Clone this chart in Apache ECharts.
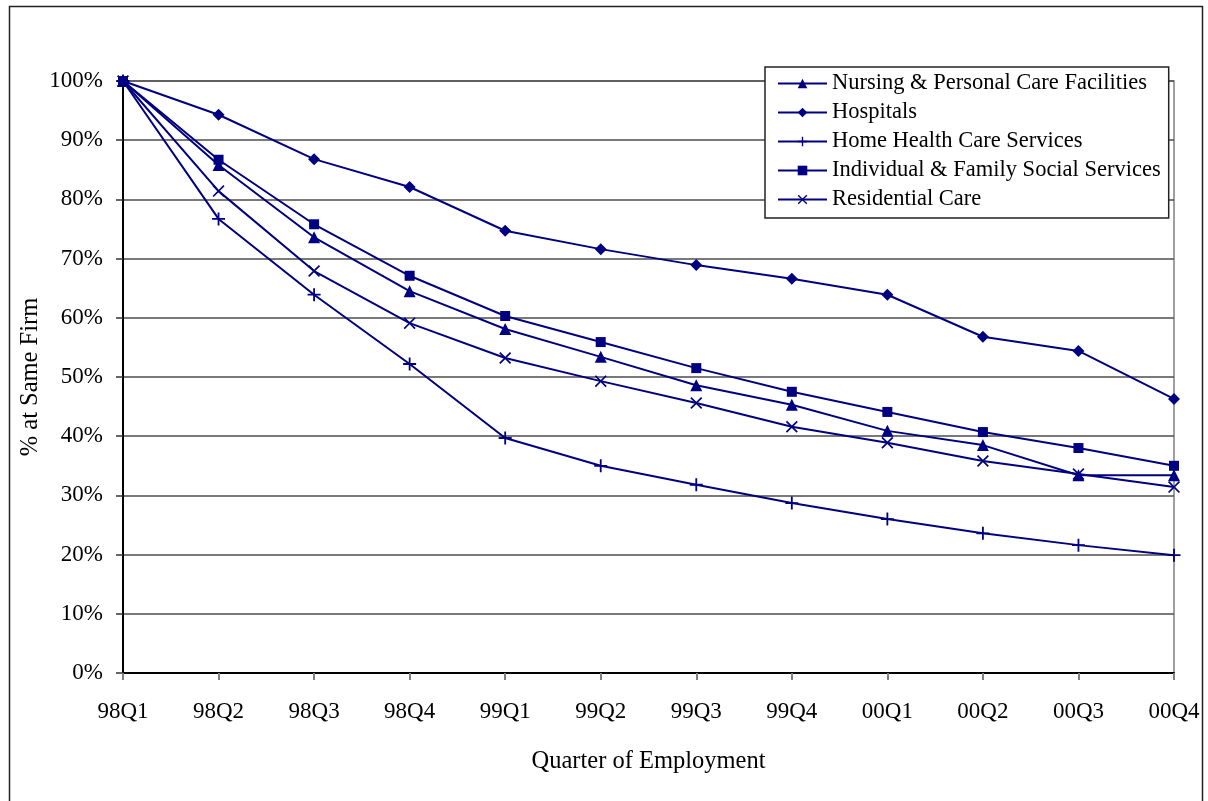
<!DOCTYPE html>
<html>
<head>
<meta charset="utf-8">
<script src="https://cdn.jsdelivr.net/npm/echarts@6/dist/echarts.min.js"></script>
<style>html,body{margin:0;padding:0;background:#fff;}#c{width:1208px;height:801px;}</style>
</head>
<body>
<div id="c"></div>
<script>
var categories = ['98Q1','98Q2','98Q3','98Q4','99Q1','99Q2','99Q3','99Q4','00Q1','00Q2','00Q3','00Q4'];
var nursing     = [100, 85.8, 73.6, 64.5, 58.1, 53.4, 48.6, 45.3, 40.9, 38.5, 33.4, 33.4];
var hospitals   = [100, 94.3, 86.8, 82.1, 74.7, 71.6, 68.9, 66.6, 63.9, 56.8, 54.4, 46.3];
var homeHealth  = [100, 76.7, 63.9, 52.2, 39.7, 35.0, 31.8, 28.7, 26.0, 23.6, 21.6, 19.9];
var individual  = [100, 86.7, 75.8, 67.1, 60.3, 55.9, 51.5, 47.5, 44.1, 40.7, 38.0, 35.0];
var residential = [100, 81.4, 67.9, 59.1, 53.2, 49.3, 45.6, 41.6, 38.9, 35.8, 33.6, 31.4];
var seriesNames = ['Nursing & Personal Care Facilities','Hospitals','Home Health Care Services','Individual & Family Social Services','Residential Care'];
var yTicks = [0,10,20,30,40,50,60,70,80,90,100];

var NAVY = '#000080';
var FONT = '"Liberation Serif","Times New Roman",serif';
var plusPath = 'path://M4.3,0h1.4v4.3h4.3v1.4h-4.3v4.3h-1.4v-4.3h-4.3v-1.4h4.3z';
var xPath = 'path://M0,1L1,0L5,4L9,0L10,1L6,5L10,9L9,10L5,6L1,10L0,9L4,5Z';

function mk(name, data, symbol, size) {
  return {
    name: name, type: 'line', data: data,
    symbol: symbol, symbolSize: size, showAllSymbol: true,
    lineStyle: {color: NAVY, width: 2},
    itemStyle: {color: NAVY},
    emphasis: {disabled: true},
    animation: false
  };
}

var chart = echarts.init(document.getElementById('c'), null, {renderer: 'canvas'});
chart.setOption({
  animation: false,
  backgroundColor: '#fff',
  textStyle: {fontFamily: FONT},
  graphic: [{
    type: 'rect', left: 7, top: 4,
    shape: {width: 1193, height: 820},
    style: {fill: 'none', stroke: '#222', lineWidth: 1.5},
    silent: true, z: -1
  }],
  grid: {left: 123, right: 34, top: 81, bottom: 128, show: true, borderColor: '#808080', borderWidth: 1.5, backgroundColor: 'transparent'},
  legend: {
    orient: 'vertical', left: 765, top: 67,
    itemWidth: 49, itemHeight: 12, itemGap: 6,
    padding: [5, 8, 7, 12],
    backgroundColor: '#fff', borderColor: '#222', borderWidth: 1.5,
    textStyle: {fontFamily: FONT, fontSize: 22.5, color: '#000', lineHeight: 21},
    data: seriesNames
  },
  xAxis: {
    type: 'category', data: categories, boundaryGap: false,
    axisLine: {lineStyle: {color: '#000', width: 2}},
    axisTick: {show: true, length: 7, lineStyle: {color: '#808080', width: 2}},
    axisLabel: {fontFamily: FONT, fontSize: 23, color: '#000', margin: 27},
    splitLine: {show: false},
    name: 'Quarter of Employment', nameLocation: 'middle', nameGap: 76, nameMoveOverlap: false,
    nameTextStyle: {fontFamily: FONT, fontSize: 24.5, color: '#000'}
  },
  yAxis: {
    type: 'value', min: 0, max: 100, interval: 10,
    axisLine: {show: true, lineStyle: {color: '#000', width: 2}},
    axisTick: {show: true, length: 7, lineStyle: {color: '#333', width: 1.5}},
    axisLabel: {fontFamily: FONT, fontSize: 23, color: '#000', margin: 20,
      formatter: function (v) { return yTicks.indexOf(v) >= 0 ? v + '%' : ''; }},
    splitLine: {show: true, lineStyle: {color: '#4d4d4d', width: 1.5}},
    name: '% at Same Firm', nameLocation: 'middle', nameGap: 80, nameRotate: 90, nameMoveOverlap: false,
    nameTextStyle: {fontFamily: FONT, fontSize: 24.5, color: '#000'}
  },
  series: [
    mk(seriesNames[0], nursing, 'triangle', 12),
    mk(seriesNames[1], hospitals, 'diamond', 12),
    mk(seriesNames[2], homeHealth, plusPath, 13),
    mk(seriesNames[3], individual, 'rect', 10),
    mk(seriesNames[4], residential, xPath, 12)
  ]
});
</script>
</body>
</html>
